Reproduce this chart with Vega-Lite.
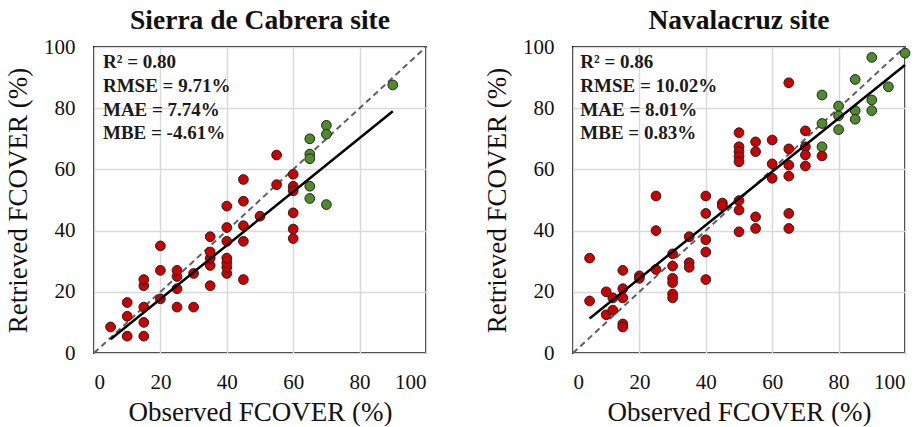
{
  "$schema": "https://vega.github.io/schema/vega-lite/v6.json",
  "padding": {"left": 3, "top": 5, "right": 0, "bottom": 0},
  "background": "white",
  "datasets": {
    "pts": [
      {"panel": "S", "obs": 5, "ret": 8.5, "grp": "r"},
      {"panel": "S", "obs": 10, "ret": 5.5, "grp": "r"},
      {"panel": "S", "obs": 10, "ret": 12, "grp": "r"},
      {"panel": "S", "obs": 10, "ret": 16.5, "grp": "r"},
      {"panel": "S", "obs": 15, "ret": 5.5, "grp": "r"},
      {"panel": "S", "obs": 15, "ret": 10, "grp": "r"},
      {"panel": "S", "obs": 15, "ret": 15, "grp": "r"},
      {"panel": "S", "obs": 15, "ret": 22, "grp": "r"},
      {"panel": "S", "obs": 15, "ret": 24, "grp": "r"},
      {"panel": "S", "obs": 20, "ret": 17.7, "grp": "r"},
      {"panel": "S", "obs": 20, "ret": 27, "grp": "r"},
      {"panel": "S", "obs": 20, "ret": 35, "grp": "r"},
      {"panel": "S", "obs": 25, "ret": 15, "grp": "r"},
      {"panel": "S", "obs": 25, "ret": 21, "grp": "r"},
      {"panel": "S", "obs": 25, "ret": 25, "grp": "r"},
      {"panel": "S", "obs": 25, "ret": 27, "grp": "r"},
      {"panel": "S", "obs": 30, "ret": 15, "grp": "r"},
      {"panel": "S", "obs": 30, "ret": 26, "grp": "r"},
      {"panel": "S", "obs": 35, "ret": 22, "grp": "r"},
      {"panel": "S", "obs": 35, "ret": 28.6, "grp": "r"},
      {"panel": "S", "obs": 35, "ret": 31, "grp": "r"},
      {"panel": "S", "obs": 35, "ret": 33, "grp": "r"},
      {"panel": "S", "obs": 35, "ret": 38, "grp": "r"},
      {"panel": "S", "obs": 40, "ret": 26, "grp": "r"},
      {"panel": "S", "obs": 40, "ret": 28, "grp": "r"},
      {"panel": "S", "obs": 40, "ret": 29.5, "grp": "r"},
      {"panel": "S", "obs": 40, "ret": 31, "grp": "r"},
      {"panel": "S", "obs": 40, "ret": 36.5, "grp": "r"},
      {"panel": "S", "obs": 40, "ret": 41, "grp": "r"},
      {"panel": "S", "obs": 40, "ret": 48, "grp": "r"},
      {"panel": "S", "obs": 45, "ret": 24, "grp": "r"},
      {"panel": "S", "obs": 45, "ret": 36.5, "grp": "r"},
      {"panel": "S", "obs": 45, "ret": 41.6, "grp": "r"},
      {"panel": "S", "obs": 45, "ret": 49.6, "grp": "r"},
      {"panel": "S", "obs": 45, "ret": 56.7, "grp": "r"},
      {"panel": "S", "obs": 50, "ret": 44.7, "grp": "r"},
      {"panel": "S", "obs": 55, "ret": 55, "grp": "r"},
      {"panel": "S", "obs": 55, "ret": 64.7, "grp": "r"},
      {"panel": "S", "obs": 60, "ret": 58.4, "grp": "r"},
      {"panel": "S", "obs": 60, "ret": 54.5, "grp": "r"},
      {"panel": "S", "obs": 60, "ret": 53, "grp": "r"},
      {"panel": "S", "obs": 60, "ret": 45.8, "grp": "r"},
      {"panel": "S", "obs": 60, "ret": 40.5, "grp": "r"},
      {"panel": "S", "obs": 60, "ret": 37.4, "grp": "r"},
      {"panel": "S", "obs": 65, "ret": 70, "grp": "g"},
      {"panel": "S", "obs": 65, "ret": 65, "grp": "g"},
      {"panel": "S", "obs": 65, "ret": 63.5, "grp": "g"},
      {"panel": "S", "obs": 65, "ret": 54.5, "grp": "g"},
      {"panel": "S", "obs": 65, "ret": 50.5, "grp": "g"},
      {"panel": "S", "obs": 70, "ret": 74.4, "grp": "g"},
      {"panel": "S", "obs": 70, "ret": 71.5, "grp": "g"},
      {"panel": "S", "obs": 70, "ret": 48.5, "grp": "g"},
      {"panel": "S", "obs": 90, "ret": 87.6, "grp": "g"},
      {"panel": "N", "obs": 5, "ret": 31, "grp": "r"},
      {"panel": "N", "obs": 5, "ret": 17, "grp": "r"},
      {"panel": "N", "obs": 10, "ret": 20, "grp": "r"},
      {"panel": "N", "obs": 12, "ret": 18, "grp": "r"},
      {"panel": "N", "obs": 10, "ret": 12.5, "grp": "r"},
      {"panel": "N", "obs": 12, "ret": 14, "grp": "r"},
      {"panel": "N", "obs": 15, "ret": 21, "grp": "r"},
      {"panel": "N", "obs": 15, "ret": 18, "grp": "r"},
      {"panel": "N", "obs": 15, "ret": 27, "grp": "r"},
      {"panel": "N", "obs": 15, "ret": 9.5, "grp": "r"},
      {"panel": "N", "obs": 15, "ret": 8.5, "grp": "r"},
      {"panel": "N", "obs": 20, "ret": 25.2, "grp": "r"},
      {"panel": "N", "obs": 20, "ret": 24.4, "grp": "r"},
      {"panel": "N", "obs": 25, "ret": 27.3, "grp": "r"},
      {"panel": "N", "obs": 25, "ret": 40, "grp": "r"},
      {"panel": "N", "obs": 25, "ret": 51.3, "grp": "r"},
      {"panel": "N", "obs": 30, "ret": 32.4, "grp": "r"},
      {"panel": "N", "obs": 30, "ret": 28.4, "grp": "r"},
      {"panel": "N", "obs": 30, "ret": 24.4, "grp": "r"},
      {"panel": "N", "obs": 30, "ret": 23, "grp": "r"},
      {"panel": "N", "obs": 30, "ret": 19.3, "grp": "r"},
      {"panel": "N", "obs": 30, "ret": 18, "grp": "r"},
      {"panel": "N", "obs": 35, "ret": 29.5, "grp": "r"},
      {"panel": "N", "obs": 35, "ret": 28, "grp": "r"},
      {"panel": "N", "obs": 35, "ret": 38, "grp": "r"},
      {"panel": "N", "obs": 40, "ret": 51.3, "grp": "r"},
      {"panel": "N", "obs": 40, "ret": 45.6, "grp": "r"},
      {"panel": "N", "obs": 40, "ret": 37, "grp": "r"},
      {"panel": "N", "obs": 40, "ret": 33, "grp": "r"},
      {"panel": "N", "obs": 40, "ret": 24, "grp": "r"},
      {"panel": "N", "obs": 45, "ret": 49, "grp": "r"},
      {"panel": "N", "obs": 45, "ret": 48, "grp": "r"},
      {"panel": "N", "obs": 50, "ret": 72, "grp": "r"},
      {"panel": "N", "obs": 50, "ret": 67.4, "grp": "r"},
      {"panel": "N", "obs": 50, "ret": 65.8, "grp": "r"},
      {"panel": "N", "obs": 50, "ret": 64.2, "grp": "r"},
      {"panel": "N", "obs": 50, "ret": 62.5, "grp": "r"},
      {"panel": "N", "obs": 50, "ret": 49.8, "grp": "r"},
      {"panel": "N", "obs": 50, "ret": 46.7, "grp": "r"},
      {"panel": "N", "obs": 50, "ret": 39.6, "grp": "r"},
      {"panel": "N", "obs": 55, "ret": 69, "grp": "r"},
      {"panel": "N", "obs": 55, "ret": 65.8, "grp": "r"},
      {"panel": "N", "obs": 55, "ret": 44.5, "grp": "r"},
      {"panel": "N", "obs": 55, "ret": 40.7, "grp": "r"},
      {"panel": "N", "obs": 60, "ret": 69.6, "grp": "r"},
      {"panel": "N", "obs": 60, "ret": 61.8, "grp": "r"},
      {"panel": "N", "obs": 60, "ret": 57.1, "grp": "r"},
      {"panel": "N", "obs": 65, "ret": 88.3, "grp": "r"},
      {"panel": "N", "obs": 65, "ret": 66.7, "grp": "r"},
      {"panel": "N", "obs": 65, "ret": 61.4, "grp": "r"},
      {"panel": "N", "obs": 65, "ret": 57.8, "grp": "r"},
      {"panel": "N", "obs": 65, "ret": 45.6, "grp": "r"},
      {"panel": "N", "obs": 65, "ret": 40.7, "grp": "r"},
      {"panel": "N", "obs": 70, "ret": 72.6, "grp": "r"},
      {"panel": "N", "obs": 70, "ret": 67.4, "grp": "r"},
      {"panel": "N", "obs": 70, "ret": 64.7, "grp": "r"},
      {"panel": "N", "obs": 70, "ret": 61.1, "grp": "r"},
      {"panel": "N", "obs": 75, "ret": 64.4, "grp": "r"},
      {"panel": "N", "obs": 75, "ret": 67.4, "grp": "g"},
      {"panel": "N", "obs": 75, "ret": 75, "grp": "g"},
      {"panel": "N", "obs": 75, "ret": 84.3, "grp": "g"},
      {"panel": "N", "obs": 80, "ret": 80.7, "grp": "g"},
      {"panel": "N", "obs": 80, "ret": 77.5, "grp": "g"},
      {"panel": "N", "obs": 80, "ret": 73, "grp": "g"},
      {"panel": "N", "obs": 85, "ret": 89.4, "grp": "g"},
      {"panel": "N", "obs": 85, "ret": 79.2, "grp": "g"},
      {"panel": "N", "obs": 85, "ret": 76.4, "grp": "g"},
      {"panel": "N", "obs": 90, "ret": 96.6, "grp": "g"},
      {"panel": "N", "obs": 90, "ret": 82.7, "grp": "g"},
      {"panel": "N", "obs": 90, "ret": 79.2, "grp": "g"},
      {"panel": "N", "obs": 95, "ret": 87, "grp": "g"},
      {"panel": "N", "obs": 100, "ret": 98, "grp": "g"}
    ],
    "lines": [
      {"panel": "S", "kind": "one", "x": 0, "y": 0},
      {"panel": "S", "kind": "one", "x": 100, "y": 100},
      {"panel": "S", "kind": "fit", "x": 5, "y": 4.5},
      {"panel": "S", "kind": "fit", "x": 90, "y": 79},
      {"panel": "N", "kind": "one", "x": 0, "y": 0},
      {"panel": "N", "kind": "one", "x": 100, "y": 100},
      {"panel": "N", "kind": "fit", "x": 5, "y": 11.3},
      {"panel": "N", "kind": "fit", "x": 100, "y": 94.1}
    ],
    "stats": [
      {"panel": "S", "label": "R² = 0.80", "x": 2.7, "y": 93.2},
      {"panel": "S", "label": "RMSE  = 9.71%", "x": 2.7, "y": 85.3},
      {"panel": "S", "label": "MAE  = 7.74%", "x": 2.7, "y": 77.6},
      {"panel": "S", "label": "MBE  = -4.61%", "x": 2.7, "y": 70},
      {"panel": "N", "label": "R² = 0.86", "x": 2.2, "y": 93.2},
      {"panel": "N", "label": "RMSE  = 10.02%", "x": 2.2, "y": 85.3},
      {"panel": "N", "label": "MAE  = 8.01%", "x": 2.2, "y": 77.6},
      {"panel": "N", "label": "MBE  = 0.83%", "x": 2.2, "y": 70}
    ]
  },
  "hconcat": [
    {
      "width": 332,
      "height": 306,
      "title": {"text": "Sierra de Cabrera site"},
      "layer": [
        {
          "data": {"name": "lines"},
          "transform": [{"filter": "datum.panel == 'S' && datum.kind == 'one'"}],
          "mark": {"type": "line", "color": "#606060", "strokeWidth": 2, "strokeDash": [6, 4]},
          "encoding": {
            "x": {"field": "x", "type": "quantitative", "scale": {"domain": [0, 100], "nice": false}, "axis": {"values": [0, 20, 40, 60, 80, 100], "title": "Observed FCOVER (%)"}},
            "y": {"field": "y", "type": "quantitative", "scale": {"domain": [0, 100], "nice": false}, "axis": {"values": [0, 20, 40, 60, 80, 100], "title": "Retrieved  FCOVER (%)"}}
          }
        },
        {
          "data": {"name": "pts"},
          "transform": [{"filter": "datum.panel == 'S'"}],
          "mark": {"type": "point", "shape": "circle", "filled": true, "size": 95, "stroke": "#222", "strokeWidth": 1, "opacity": 1},
          "encoding": {
            "x": {"field": "obs", "type": "quantitative"},
            "y": {"field": "ret", "type": "quantitative"},
            "color": {"field": "grp", "type": "nominal", "scale": {"domain": ["r", "g"], "range": ["#cc0000", "#4f8a2b"]}, "legend": null}
          }
        },
        {
          "data": {"name": "lines"},
          "transform": [{"filter": "datum.panel == 'S' && datum.kind == 'fit'"}],
          "mark": {"type": "line", "color": "#000000", "strokeWidth": 2.5},
          "encoding": {
            "x": {"field": "x", "type": "quantitative"},
            "y": {"field": "y", "type": "quantitative"}
          }
        },
        {
          "data": {"name": "stats"},
          "transform": [{"filter": "datum.panel == 'S'"}],
          "mark": {"type": "text", "align": "left", "baseline": "alphabetic", "font": "Liberation Serif", "fontSize": 19, "fontWeight": "bold", "color": "#1a1a1a"},
          "encoding": {
            "x": {"field": "x", "type": "quantitative"},
            "y": {"field": "y", "type": "quantitative"},
            "text": {"field": "label"}
          }
        }
      ]
    },
    {
      "width": 332,
      "height": 306,
      "title": {"text": "Navalacruz site"},
      "layer": [
        {
          "data": {"name": "lines"},
          "transform": [{"filter": "datum.panel == 'N' && datum.kind == 'one'"}],
          "mark": {"type": "line", "color": "#606060", "strokeWidth": 2, "strokeDash": [6, 4]},
          "encoding": {
            "x": {"field": "x", "type": "quantitative", "scale": {"domain": [0, 100], "nice": false}, "axis": {"values": [0, 20, 40, 60, 80, 100], "title": "Observed FCOVER (%)"}},
            "y": {"field": "y", "type": "quantitative", "scale": {"domain": [0, 100], "nice": false}, "axis": {"values": [0, 20, 40, 60, 80, 100], "title": "Retrieved  FCOVER (%)"}}
          }
        },
        {
          "data": {"name": "pts"},
          "transform": [{"filter": "datum.panel == 'N'"}],
          "mark": {"type": "point", "shape": "circle", "filled": true, "size": 95, "stroke": "#222", "strokeWidth": 1, "opacity": 1},
          "encoding": {
            "x": {"field": "obs", "type": "quantitative"},
            "y": {"field": "ret", "type": "quantitative"},
            "color": {"field": "grp", "type": "nominal", "scale": {"domain": ["r", "g"], "range": ["#cc0000", "#4f8a2b"]}, "legend": null}
          }
        },
        {
          "data": {"name": "lines"},
          "transform": [{"filter": "datum.panel == 'N' && datum.kind == 'fit'"}],
          "mark": {"type": "line", "color": "#000000", "strokeWidth": 2.5},
          "encoding": {
            "x": {"field": "x", "type": "quantitative"},
            "y": {"field": "y", "type": "quantitative"}
          }
        },
        {
          "data": {"name": "stats"},
          "transform": [{"filter": "datum.panel == 'N'"}],
          "mark": {"type": "text", "align": "left", "baseline": "alphabetic", "font": "Liberation Serif", "fontSize": 19, "fontWeight": "bold", "color": "#1a1a1a"},
          "encoding": {
            "x": {"field": "x", "type": "quantitative"},
            "y": {"field": "y", "type": "quantitative"},
            "text": {"field": "label"}
          }
        }
      ]
    }
  ],
  "resolve": {"scale": {"color": "independent"}},
  "config": {
    "concat": {"spacing": 51},
    "view": {"stroke": "#222222", "strokeWidth": 2},
    "title": {"font": "Liberation Serif", "fontSize": 27.5, "fontWeight": "bold", "color": "#111111", "anchor": "middle", "offset": 2},
    "axis": {
      "labelFont": "Liberation Serif",
      "labelFontSize": 21,
      "labelColor": "#111111",
      "titleFont": "Liberation Serif",
      "titleFontSize": 27,
      "titleFontWeight": "normal",
      "titleColor": "#111111",
      "ticks": false,
      "domain": false,
      "gridColor": "#d9d9d9",
      "gridWidth": 1.5
    },
    "axisX": {"labelPadding": 18, "titlePadding": 7},
    "axisY": {"labelPadding": 19, "titlePadding": 11}
  }
}
